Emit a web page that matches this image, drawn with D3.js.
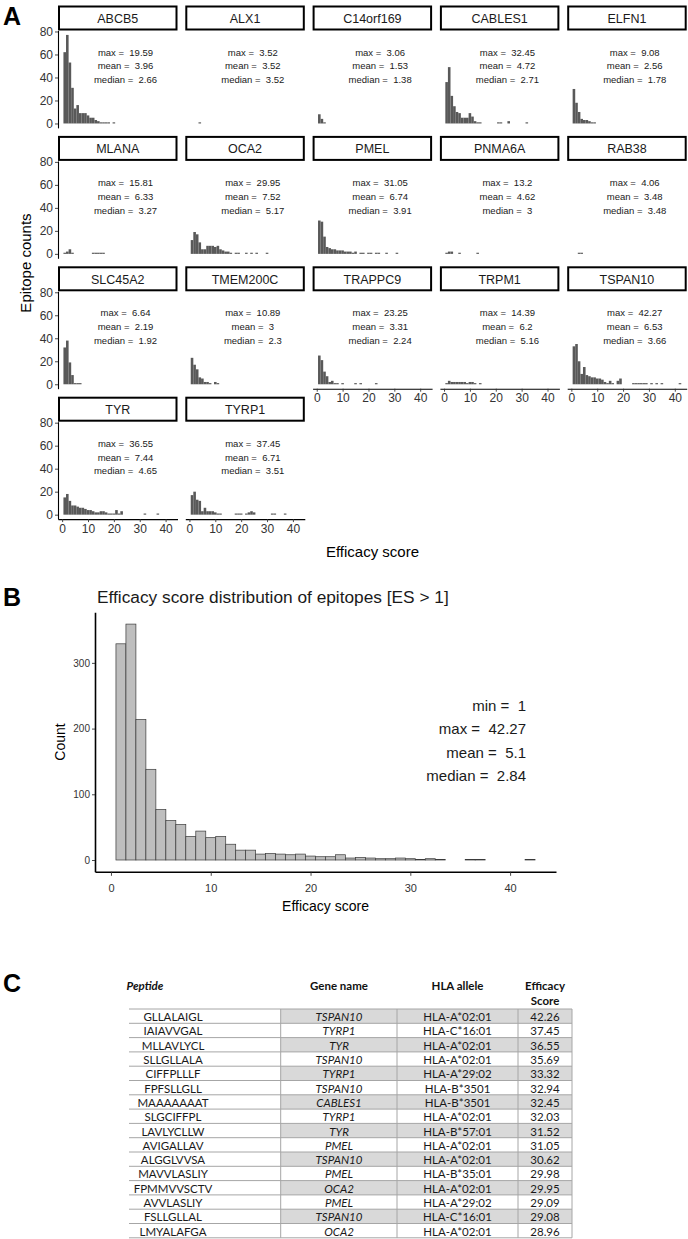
<!DOCTYPE html>
<html><head><meta charset="utf-8">
<script src="https://cdn.jsdelivr.net/npm/d3@7"></script>
<style>body{margin:0;background:#fff} svg{display:block} text{white-space:pre}</style>
</head><body><svg id="c" width="688" height="1239"></svg>
<script>
// ---------- Panel A data (counts per 1-unit bin, bin centres 1,2,3,...) ----------
const genes = ["ABCB5","ALX1","C14orf169","CABLES1","ELFN1","MLANA","OCA2","PMEL","PNMA6A","RAB38","SLC45A2","TMEM200C","TRAPPC9","TRPM1","TSPAN10","TYR","TYRP1"];
const binsABCB5    = [62,77,53,31,13,16,9,9,9,7,5,5,3,2,1,1,1,1,0,1];
const binsALX1     = [0,0,0,1];
const binsC14orf169= [8,4,1];
const binsCABLES1  = [36,49,24,15,10,9,5,5,5,9,6,2,1,1,0,0,0,0,0,0,1,1,0,0,2,0,0,0,0,0,0,1];
const binsELFN1    = [30,18,10,4,3,3,2,1,1];
const binsMLANA    = [1,2,4,1,0,0,0,0,0,0,0,1,1,1,1,1];
const binsOCA2     = [12,19,17,10,4,4,7,7,7,6,7,4,3,2,2,1,0,1,1,0,0,1,0,1,0,1,0,0,0,1];
const binsPMEL     = [29,28,15,6,5,4,4,3,3,3,2,2,2,1,2,0,1,1,0,1,1,0,1,1,0,0,1,0,0,0,1];
const binsPNMA6A   = [1,2,2,0,0,1,0,0,0,0,0,0,1];
const binsRAB38    = [0,0,1,1];
const binsSLC45A2  = [32,38,19,8,1,1,1];
const binsTMEM200C = [23,17,13,6,5,2,2,1,0,2,1];
const binsTRAPPC9  = [25,21,11,7,2,3,1,1,0,1,0,0,0,0,1,0,1,0,0,0,0,0,1];
const binsTRPM1    = [1,3,2,2,2,2,2,2,1,2,2,1,0,1];
const binsTSPAN10  = [33,35,20,9,15,8,7,6,6,5,5,4,2,1,3,1,0,3,5,0,0,0,0,1,1,1,1,1,1,0,1,0,1,0,1,0,0,0,0,0,0,1];
const binsTYR      = [15,18,12,8,8,7,6,6,5,4,4,3,2,2,3,3,2,1,1,1,4,1,3,0,0,0,0,0,0,0,0,1,0,0,0,0,1];
const binsTYRP1    = [17,20,13,12,3,6,3,3,3,2,1,1,0,0,0,0,0,1,1,1,0,1,2,3,2,0,0,0,0,0,0,1,1,0,0,0,1];
const geneBins = [binsABCB5,binsALX1,binsC14orf169,binsCABLES1,binsELFN1,binsMLANA,binsOCA2,binsPMEL,binsPNMA6A,binsRAB38,binsSLC45A2,binsTMEM200C,binsTRAPPC9,binsTRPM1,binsTSPAN10,binsTYR,binsTYRP1];
const statMax    = ["19.59","3.52","3.06","32.45","9.08","15.81","29.95","31.05","13.2","4.06","6.64","10.89","23.25","14.39","42.27","36.55","37.45"];
const statMean   = ["3.96","3.52","1.53","4.72","2.56","6.33","7.52","6.74","4.62","3.48","2.19","3","3.31","6.2","6.53","7.44","6.71"];
const statMedian = ["2.66","3.52","1.38","2.71","1.78","3.27","5.17","3.91","3","3.48","1.92","2.3","2.24","5.16","3.66","4.65","3.51"];
const yTicksA = [0,20,40,60,80];
const xTicksA = [0,10,20,30,40];

// ---------- Panel B data ----------
const overallBins = [329,359,214,138,77,60,54,36,44,34,36,24,15,15,9,10,9,8,9,6,5,5,8,3,4,3,2,2,3,2,1,2,1,0,0,1,1,0,0,0,0,1];
const overallStatLabels = ["min =  1","max =  42.27","mean =  5.1","median =  2.84"];
const yTicksB = [0,100,200,300];
const xTicksB = [0,10,20,30,40];

// ---------- Panel C data ----------
const tableHeaders = ["Peptide","Gene name","HLA allele","Efficacy Score"];
const peptides = ["GLLALAIGL","IAIAVVGAL","MLLAVLYCL","SLLGLLALA","CIFFPLLLF","FPFSLLGLL","MAAAAAAAT","SLGCIFFPL","LAVLYCLLW","AVIGALLAV","ALGGLVVSA","MAVVLASLIY","FPMMVVSCTV","AVVLASLIY","FSLLGLLAL","LMYALAFGA"];
const geneNames = ["TSPAN10","TYRP1","TYR","TSPAN10","TYRP1","TSPAN10","CABLES1","TYRP1","TYR","PMEL","TSPAN10","PMEL","OCA2","PMEL","TSPAN10","OCA2"];
const hlaAlleles = ["HLA-A*02:01","HLA-C*16:01","HLA-A*02:01","HLA-A*02:01","HLA-A*29:02","HLA-B*3501","HLA-B*3501","HLA-A*02:01","HLA-B*57:01","HLA-A*02:01","HLA-A*02:01","HLA-B*35:01","HLA-A*02:01","HLA-A*29:02","HLA-C*16:01","HLA-A*02:01"];
const scores = ["42.26","37.45","36.55","35.69","33.32","32.94","32.45","32.03","31.52","31.05","30.62","29.98","29.95","29.09","29.08","28.96"];

const svg = d3.select("#c");
const SANS = "'Liberation Sans', Arial, Helvetica, sans-serif";
svg.append("rect").attr("width",688).attr("height",1239).attr("fill","#fff");

function styleAxis(g, fs){
  g.select(".domain").attr("stroke","#000").attr("stroke-width",1.1);
  g.selectAll(".tick line").attr("stroke","#333").attr("stroke-width",0.9);
  g.selectAll(".tick text").attr("fill","#333").attr("font-size",fs).attr("font-family",SANS);
}

// ================= Panel A =================
svg.append("text").attr("x",3).attr("y",25).attr("font-family",SANS).attr("font-weight","bold").attr("font-size",25).text("A");
const nCol = 5, colPitch = 127.3, pw = 119.5, ax0 = 58;
const rowPitch = 130.4, stripTop0 = 5.5, stripH = 25, ph = 97.4;

genes.forEach((g, i) => {
  const c = i % nCol, r = Math.floor(i / nCol);
  const x0 = ax0 + c * colPitch;
  const sTop = stripTop0 + r * rowPitch;
  const pTop = sTop + stripH;
  const x = d3.scaleLinear().domain([-1.6, 44.6]).range([x0, x0 + pw]);
  const y = d3.scaleLinear().domain([-3.85, 80.85]).range([pTop + ph, pTop]);
  const grp = svg.append("g");
  grp.append("rect").attr("x", x0 + 1).attr("y", sTop + 1).attr("width", pw - 2).attr("height", stripH - 2)
    .attr("fill","#fff").attr("stroke","#000").attr("stroke-width",2);
  grp.append("text").attr("x", x0 + pw/2).attr("y", sTop + stripH/2 + 1).attr("text-anchor","middle")
    .attr("dominant-baseline","central").attr("font-family",SANS).attr("font-size",12.5).attr("fill","#1a1a1a").text(g);
  const bins = geneBins[i];
  grp.selectAll("rect.bar").data(bins.map((v,k)=>({c:k+1,v})).filter(d=>d.v>0)).enter().append("rect")
    .attr("class","bar")
    .attr("x", d => x(d.c - 0.5)).attr("width", d => x(d.c + 0.5) - x(d.c - 0.5))
    .attr("y", d => y(d.v)).attr("height", d => y(0) - y(d.v)).attr("fill","#595959");
  const lines = ["max =  " + statMax[i], "mean =  " + statMean[i], "median =  " + statMedian[i]];
  const ly = [62, 50, 38];
  lines.forEach((t, k) => {
    grp.append("text").attr("x", x(24.5)).attr("y", y(ly[k])).attr("text-anchor","middle")
      .attr("dominant-baseline","central").attr("font-family",SANS).attr("font-size",9.5).attr("fill","#1a1a1a")
      .attr("xml:space","preserve").text(t);
  });
  if (c === 0) {
    const ga = grp.append("g").attr("transform",`translate(${x0},0)`)
      .call(d3.axisLeft(y).tickValues(yTicksA).tickSize(3).tickSizeOuter(0).tickPadding(2));
    styleAxis(ga, 12);
  }
  const isBottom = (i + nCol) >= genes.length;
  if (isBottom) {
    const gx = grp.append("g").attr("transform",`translate(0,${pTop + ph})`)
      .call(d3.axisBottom(x).tickValues(xTicksA).tickSize(3).tickSizeOuter(0).tickPadding(2));
    styleAxis(gx, 12);
  }
});
svg.append("text").attr("transform","translate(25,263) rotate(-90)").attr("text-anchor","middle")
  .attr("dominant-baseline","central").attr("font-family",SANS).attr("font-size",15).text("Epitope counts");
svg.append("text").attr("x", 372.5).attr("y", 551).attr("text-anchor","middle")
  .attr("dominant-baseline","central").attr("font-family",SANS).attr("font-size",15).text("Efficacy score");

// ================= Panel B =================
svg.append("text").attr("x",3).attr("y",606).attr("font-family",SANS).attr("font-weight","bold").attr("font-size",25).text("B");
const bx0 = 95, bx1 = 556, byTop = 612.3, byBot = 871.8;
const xB = d3.scaleLinear().domain([-1.6, 44.6]).range([bx0, bx1]);
const yB = d3.scaleLinear().domain([-17.95, 376.95]).range([byBot, byTop]);
svg.append("text").attr("x", 97).attr("y", 603).attr("font-family",SANS).attr("font-size",17.3).attr("fill","#1a1a1a")
  .text("Efficacy score distribution of epitopes [ES > 1]");
svg.append("g").selectAll("rect").data(overallBins.map((v,k)=>({c:k+1,v}))).enter().append("rect")
  .attr("x", d => xB(d.c - 0.5)).attr("width", d => xB(d.c + 0.5) - xB(d.c - 0.5))
  .attr("y", d => yB(d.v)).attr("height", d => yB(0) - yB(d.v))
  .attr("fill","#bebebe").attr("stroke","#3a3a3a").attr("stroke-width",0.7);
const gyB = svg.append("g").attr("transform",`translate(${bx0},0)`)
  .call(d3.axisLeft(yB).tickValues(yTicksB).tickSize(3).tickSizeOuter(0).tickPadding(2));
styleAxis(gyB, 10);
gyB.select(".domain").attr("stroke-width",1.6);
const gxB = svg.append("g").attr("transform",`translate(0,${byBot})`)
  .call(d3.axisBottom(xB).tickValues(xTicksB).tickSize(4).tickSizeOuter(0).tickPadding(8));
styleAxis(gxB, 11);
gxB.select(".domain").attr("stroke-width",1.6);
svg.append("text").attr("transform",`translate(60,${(byTop+byBot)/2}) rotate(-90)`).attr("text-anchor","middle")
  .attr("dominant-baseline","central").attr("font-family",SANS).attr("font-size",14).text("Count");
svg.append("text").attr("x",(bx0+bx1)/2).attr("y",906).attr("text-anchor","middle")
  .attr("dominant-baseline","central").attr("font-family",SANS).attr("font-size",14).text("Efficacy score");
const annY = [705, 728.5, 752, 775.5];
overallStatLabels.forEach((t,k)=>{
  svg.append("text").attr("x", 526).attr("y", annY[k]).attr("text-anchor","end").attr("dominant-baseline","central")
    .attr("font-family",SANS).attr("font-size",15).attr("fill","#1a1a1a").attr("xml:space","preserve").text(t);
});

// ================= Panel C =================
const TF = "Lato, 'Open Sans', sans-serif";
svg.append("text").attr("x",3).attr("y",992).attr("font-family",SANS).attr("font-weight","bold").attr("font-size",25).text("C");
const colEdges = [129, 280.7, 397, 518, 572];
const colCenters = [173, 339, 457.5, 545];
const tTop = 1009, rH = 14.3;
const hdrY1 = 985, hdrY2 = 1000;
const hdr = (x, y, t, italic) => svg.append("text").attr("x",x).attr("y",y).attr("text-anchor","middle")
  .attr("dominant-baseline","central").attr("font-family",TF).attr("font-weight","bold")
  .attr("font-style", italic ? "italic" : "normal").attr("font-size",11.5).attr("fill","#111").text(t);
hdr(145, hdrY1, tableHeaders[0], true);
hdr(colCenters[1], hdrY1, tableHeaders[1], false);
hdr(colCenters[2], hdrY1, tableHeaders[2], false);
const effWords = tableHeaders[3].split(" ");
hdr(colCenters[3], hdrY1, effWords[0], false);
hdr(colCenters[3], hdrY2, effWords[1], false);

const rowScale = d3.scaleBand().domain(d3.range(peptides.length)).range([tTop, tTop + rH*peptides.length]).padding(0);
const tbl = svg.append("g");
tbl.selectAll("rect.sh").data(d3.range(peptides.length).filter(i=>i%2===0)).enter().append("rect")
  .attr("x", colEdges[1]).attr("width", colEdges[4]-colEdges[1])
  .attr("y", i=>rowScale(i)).attr("height", rowScale.bandwidth()).attr("fill","#d9d9d9");
tbl.selectAll("line.h").data(d3.range(peptides.length+1)).enter().append("line")
  .attr("x1", colEdges[0]).attr("x2", colEdges[4])
  .attr("y1", i=>tTop + i*rH).attr("y2", i=>tTop + i*rH).attr("stroke","#a6a6a6").attr("stroke-width",1);
tbl.selectAll("line.v").data(colEdges.slice(1)).enter().append("line")
  .attr("x1", d=>d).attr("x2", d=>d).attr("y1", tTop).attr("y2", tTop + rH*peptides.length)
  .attr("stroke","#a6a6a6").attr("stroke-width",1);
const cols = [peptides, geneNames, hlaAlleles, scores];
cols.forEach((arr, ci) => {
  tbl.selectAll(null).data(arr).enter().append("text")
    .attr("x", colCenters[ci]).attr("y", (d,i)=>rowScale(i)+rH/2+0.5)
    .attr("text-anchor","middle").attr("dominant-baseline","central")
    .attr("font-family",TF).attr("font-size",11.5).attr("fill","#1a1a1a")
    .attr("font-style", ci===1 ? "italic" : "normal").text(d=>d);
});
</script></body></html>
